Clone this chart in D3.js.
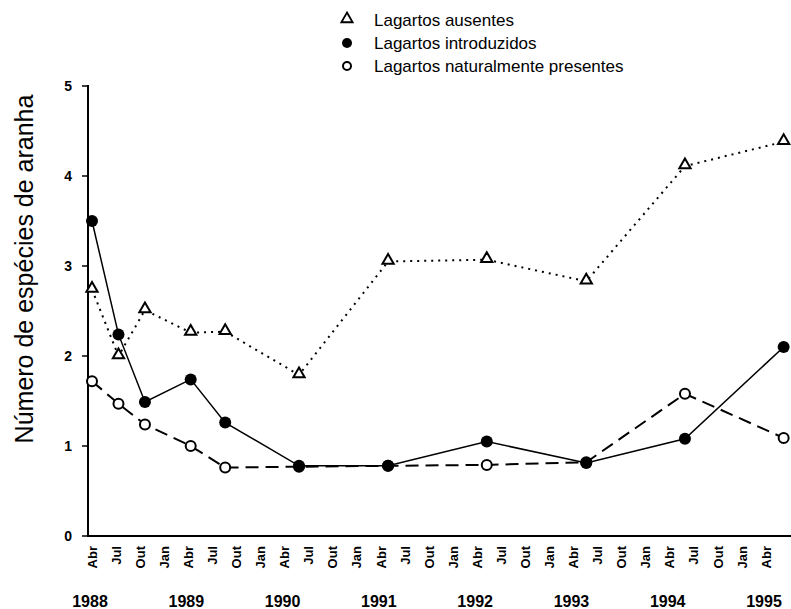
<!DOCTYPE html>
<html>
<head>
<meta charset="utf-8">
<script src="https://cdn.jsdelivr.net/npm/d3@7"></script>
<style>
  body { margin: 0; background: #fff; }
  svg { font-family: "Liberation Sans", Arial, sans-serif; }
</style>
</head>
<body>
<script>
/* Data: months counted from Jan 1988 (Jan = 0) */
var sampleMonths = [3, 6.3, 9.6, 15.3, 19.6, 28.8, 39.9, 52.2, 64.6, 76.9, 89.2];
var ausentes = [2.74, 2.0, 2.51, 2.26, 2.27, 1.79, 3.05, 3.07, 2.83, 4.11, 4.38];
var introduzidos = [3.5, 2.24, 1.49, 1.74, 1.26, 0.78, 0.78, 1.05, 0.81, 1.08, 2.1];
var presentes = [1.72, 1.47, 1.24, 1.0, 0.76, 0.77, 0.78, 0.79, 0.82, 1.58, 1.09];

var seriesNames = ["Lagartos ausentes", "Lagartos introduzidos", "Lagartos naturalmente presentes"];
var quarterLabels = ["Jan", "Abr", "Jul", "Out"];
var years = [1988, 1989, 1990, 1991, 1992, 1993, 1994, 1995];
var yTicks = [0, 1, 2, 3, 4, 5];

var width = 791, height = 609;

var svg = d3.select("body").append("svg")
  .attr("width", width)
  .attr("height", height);

/* scales: Abr 1988 (month 3) to Abr 1995 (month 87) */
var x = d3.scaleLinear().domain([3, 87]).range([92, 766]);
var y = d3.scaleLinear().domain([0, 5]).range([536, 86]);

/* quarter ticks Abr 1988 .. Abr 1995 */
var tickMonths = [];
for (var m = 3; m <= 87; m += 3) tickMonths.push(m);

/* y axis */
svg.append("line")
  .attr("x1", 88).attr("x2", 88)
  .attr("y1", y(5) - 1).attr("y2", y(0) + 1)
  .attr("stroke", "#000").attr("stroke-width", 2);

svg.selectAll(".ytick")
  .data(yTicks)
  .enter().append("line")
  .attr("class", "ytick")
  .attr("x1", 82).attr("x2", 88)
  .attr("y1", function(d) { return y(d); })
  .attr("y2", function(d) { return y(d); })
  .attr("stroke", "#000").attr("stroke-width", 1.5);

svg.selectAll(".ylab")
  .data(yTicks)
  .enter().append("text")
  .attr("class", "ylab")
  .attr("x", 72)
  .attr("y", function(d) { return y(d); })
  .attr("dy", "0.36em")
  .attr("text-anchor", "end")
  .style("font-size", "14px")
  .style("font-weight", "bold")
  .text(function(d) { return d; });

/* y title */
svg.append("text")
  .attr("transform", "translate(33,269) rotate(-90)")
  .attr("text-anchor", "middle")
  .style("font-size", "25px")
  .text("Número de espécies de aranha");

/* x axis */
svg.append("line")
  .attr("x1", 87).attr("x2", width)
  .attr("y1", y(0)).attr("y2", y(0))
  .attr("stroke", "#000").attr("stroke-width", 2);

svg.selectAll(".xlab")
  .data(tickMonths)
  .enter().append("text")
  .attr("class", "xlab")
  .attr("transform", function(d) {
    return "translate(" + x(d) + ",546) rotate(-90)";
  })
  .attr("dy", "0.36em")
  .attr("text-anchor", "end")
  .style("font-size", "13px")
  .style("font-weight", "bold")
  .text(function(d) { return quarterLabels[(d % 12) / 3]; });

svg.selectAll(".year")
  .data(years)
  .enter().append("text")
  .attr("class", "year")
  .attr("x", function(d) { return x((d - 1988) * 12 + 3) - 2; })
  .attr("y", 607)
  .attr("text-anchor", "middle")
  .style("font-size", "16px")
  .style("font-weight", "bold")
  .text(function(d) { return d; });

/* lines */
function toPoints(values) {
  return values.map(function(v, i) { return [sampleMonths[i], v]; });
}

var line = d3.line()
  .x(function(d) { return x(d[0]); })
  .y(function(d) { return y(d[1]); });

svg.append("path")
  .datum(toPoints(ausentes))
  .attr("d", line)
  .attr("fill", "none").attr("stroke", "#000")
  .attr("stroke-width", 2)
  .attr("stroke-dasharray", "2,5");

svg.append("path")
  .datum(toPoints(presentes))
  .attr("d", line)
  .attr("fill", "none").attr("stroke", "#000")
  .attr("stroke-width", 2)
  .attr("stroke-dasharray", "13,7");

svg.append("path")
  .datum(toPoints(introduzidos))
  .attr("d", line)
  .attr("fill", "none").attr("stroke", "#000")
  .attr("stroke-width", 1.5);

/* markers */
var tri = d3.symbol().type(d3.symbolTriangle).size(55);

svg.selectAll(".tri")
  .data(toPoints(ausentes))
  .enter().append("path")
  .attr("class", "tri")
  .attr("d", tri)
  .attr("transform", function(d) { return "translate(" + x(d[0]) + "," + (y(d[1]) - 1) + ")"; })
  .attr("fill", "#fff").attr("stroke", "#000").attr("stroke-width", 2);

svg.selectAll(".open")
  .data(toPoints(presentes))
  .enter().append("circle")
  .attr("class", "open")
  .attr("cx", function(d) { return x(d[0]); })
  .attr("cy", function(d) { return y(d[1]); })
  .attr("r", 5)
  .attr("fill", "#fff").attr("stroke", "#000").attr("stroke-width", 2);

svg.selectAll(".filled")
  .data(toPoints(introduzidos))
  .enter().append("circle")
  .attr("class", "filled")
  .attr("cx", function(d) { return x(d[0]); })
  .attr("cy", function(d) { return y(d[1]); })
  .attr("r", 6)
  .attr("fill", "#000");

/* legend */
var legend = svg.append("g").attr("transform", "translate(347,0)");
var legendY = [20, 43, 66];

legend.append("path")
  .attr("d", tri)
  .attr("transform", "translate(0," + (legendY[0] - 1) + ")")
  .attr("fill", "#fff").attr("stroke", "#000").attr("stroke-width", 1.8);
legend.append("circle")
  .attr("cx", 0).attr("cy", legendY[1]).attr("r", 5)
  .attr("fill", "#000");
legend.append("circle")
  .attr("cx", 0).attr("cy", legendY[2]).attr("r", 4)
  .attr("fill", "#fff").attr("stroke", "#000").attr("stroke-width", 2);

legend.selectAll(".leg")
  .data(seriesNames)
  .enter().append("text")
  .attr("class", "leg")
  .attr("x", 27)
  .attr("y", function(d, i) { return legendY[i]; })
  .attr("dy", "0.35em")
  .style("font-size", "17px")
  .text(function(d) { return d; });
</script>
</body>
</html>
